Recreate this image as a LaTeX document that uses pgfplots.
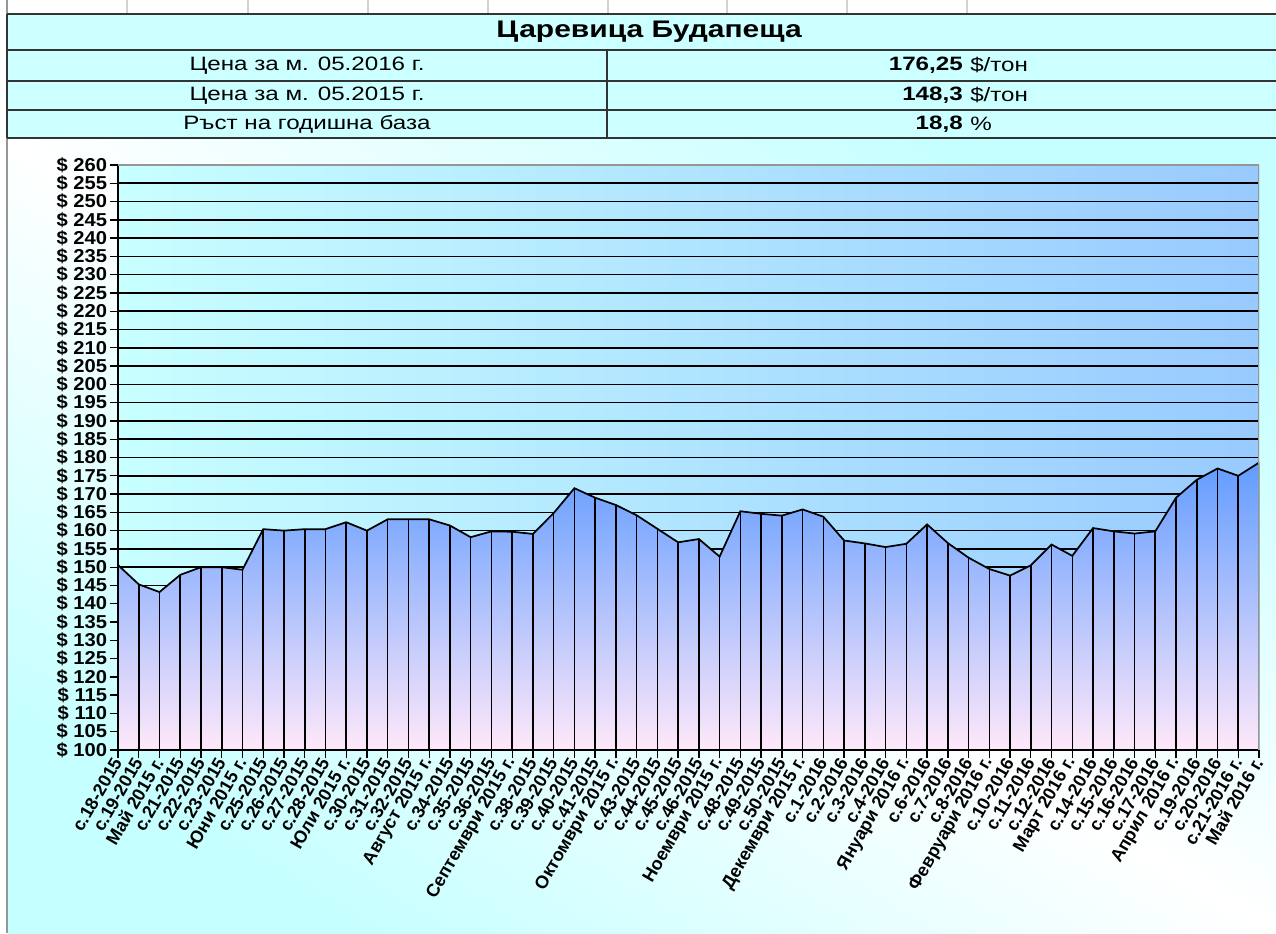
\documentclass[border=0pt]{standalone}
\usepackage{fontspec}
\setmainfont{Liberation Sans}[FakeStretch=1.25]
\newfontfamily\labfont{Liberation Sans}[FakeStretch=1.08]
\newfontfamily\xlabfont{Liberation Sans}
\usepackage{pgfplots}
\usepackage{pgfplotstable}
\pgfplotsset{compat=1.18}

\definecolor{cellbg}{RGB}{204,255,255}
\definecolor{pagecyan}{RGB}{198,255,255}
\definecolor{plotleft}{RGB}{200,255,255}
\definecolor{plotright}{RGB}{152,202,255}
\definecolor{areatop}{RGB}{98,156,255}
\definecolor{areabot}{RGB}{255,232,250}
\definecolor{frame}{RGB}{150,150,150}

% weekly price, $/ton
\pgfplotstableread{
x y
0 150.6
1 145.3
2 143.2
3 147.9
4 150.0
5 150.0
6 149.3
7 160.4
8 160.0
9 160.4
10 160.4
11 162.3
12 160.0
13 163.1
14 163.1
15 163.1
16 161.4
17 158.2
18 159.8
19 159.7
20 159.1
21 164.8
22 171.6
23 169.0
24 167.0
25 164.2
26 160.5
27 156.8
28 157.7
29 152.9
30 165.3
31 164.6
32 164.1
33 165.8
34 163.8
35 157.3
36 156.5
37 155.5
38 156.4
39 161.7
40 156.6
41 152.6
42 149.5
43 147.7
44 150.5
45 156.2
46 153.1
47 160.7
48 159.8
49 159.2
50 159.8
51 169.0
52 173.9
53 177.0
54 175.0
55 178.6
}\pricedata

\begin{document}
\begin{tikzpicture}[x=0.75pt,y=0.75pt]
\useasboundingbox (0,0) rectangle (1276,933);
\fill[white] (0,0) rectangle (1276,933);
% sheet background: cyan corners, pale diagonal
\shade[top color=pagecyan, bottom color=pagecyan, middle color=white, shading angle=-32]
  (8,0) rectangle (1276,795);
% spreadsheet column marks on top
\foreach \cx in {127,248,368,488,608,727,847,967}
  \draw[gray!35, line width=0.8pt] (\cx,919) -- (\cx,933);
\draw[frame, line width=1.2pt] (7,0) -- (7,933);

% header table
\fill[cellbg] (7,795) rectangle (1276,919);
\draw[black!80, line width=1.8pt] (7,919) -- (1276,919);
\foreach \ry in {883,852,823,795}
  \draw[black!80, line width=1.1pt] (7,\ry) -- (1276,\ry);
\draw[black!80, line width=1.1pt] (7,795) -- (7,919);
\draw[black!80, line width=1.1pt] (607,795) -- (607,883);
\node[font=\bfseries\fontsize{18}{20}\selectfont] at (649,901) {Царевица Будапеща};
\node[font=\fontsize{14.5}{16}\selectfont] at (307,867.5) {Цена за м. 05.2016 г.};
\node[font=\fontsize{14.5}{16}\selectfont] at (307,837.5) {Цена за м. 05.2015 г.};
\node[font=\fontsize{14.5}{16}\selectfont] at (307,809) {Ръст на годишна база};
\node[font=\bfseries\fontsize{14.5}{16}\selectfont, anchor=east, inner sep=0pt] at (963,867.5) {176,25};
\node[font=\bfseries\fontsize{14.5}{16}\selectfont, anchor=east, inner sep=0pt] at (963,837.5) {148,3};
\node[font=\bfseries\fontsize{14.5}{16}\selectfont, anchor=east, inner sep=0pt] at (963,809) {18,8};
\node[font=\fontsize{14.5}{16}\selectfont, anchor=west, inner sep=0pt] at (970,867.5) {\$/тон};
\node[font=\fontsize{14.5}{16}\selectfont, anchor=west, inner sep=0pt] at (970,837.5) {\$/тон};
\node[font=\fontsize{14.5}{16}\selectfont, anchor=west, inner sep=0pt] at (970,809) {\%};

\begin{axis}[
  at={(88.5pt,137.25pt)}, anchor=south west,
  scale only axis, width=855.75pt, height=438.75pt,
  xmin=0, xmax=55, ymin=100, ymax=260,
  ytick={100,105,...,255},
  extra y ticks={260}, extra y tick style={grid=none},
  xtick={0,...,55},
  xticklabels={с.18-2015, с.19-2015, Май 2015 г., с.21-2015, с.22-2015, с.23-2015,
    Юни 2015 г., с.25-2015, с.26-2015, с.27-2015, с.28-2015, Юли 2015 г., с.30-2015,
    с.31-2015, с.32-2015, Август 2015 г., с.34-2015, с.35-2015, с.36-2015,
    Септември 2015 г., с.38-2015, с.39-2015, с.40-2015, с.41-2015, Октомври 2015 г.,
    с.43-2015, с.44-2015, с.45-2015, с.46-2015, Ноември 2015 г., с.48-2015, с.49-2015,
    с.50-2015, Декември 2015 г., с.1-2016, с.2-2016, с.3-2016, с.4-2016, Януари 2016 г.,
    с.6-2016, с.7-2016, с.8-2016, Февруари 2016 г., с.10-2016, с.11-2016, с.12-2016,
    Март 2016 г., с.14-2016, с.15-2016, с.16-2016, с.17-2016, Април 2016 г.,
    с.19-2016, с.20-2016, с.21-2016 г., Май 2016 г.},
  yticklabel={\$ \pgfmathprintnumber{\tick}},
  /pgf/number format/assume math mode=true,
  ymajorgrids, grid style={black, line width=1.2pt},
  axis background/.style={left color=plotleft, right color=plotright},
  axis x line*=bottom, axis y line*=left,
  axis line style={black, line width=1.3pt, -},
  tick style={black, line width=1pt},
  major tick length=6pt, tick align=outside,
  x tick label style={rotate=60, anchor=east, inner sep=1pt,
    font=\xlabfont\bfseries\fontsize{13.5}{14}\selectfont},
  y tick label style={font=\labfont\bfseries\fontsize{14}{14}\selectfont, inner sep=2pt},
]
\addplot[draw=black, line width=1.3pt, mark=none, top color=areatop, bottom color=areabot]
  table[x=x, y=y] {\pricedata} |- (axis cs:0,100) -- cycle;
\addplot[ycomb, black, line width=1.2pt, mark=none] table[x=x, y=y] {\pricedata};
\draw[frame, line width=1.5pt] (rel axis cs:0,1) -- (rel axis cs:1,1) -- (rel axis cs:1,0);
\end{axis}
\end{tikzpicture}
\end{document}
